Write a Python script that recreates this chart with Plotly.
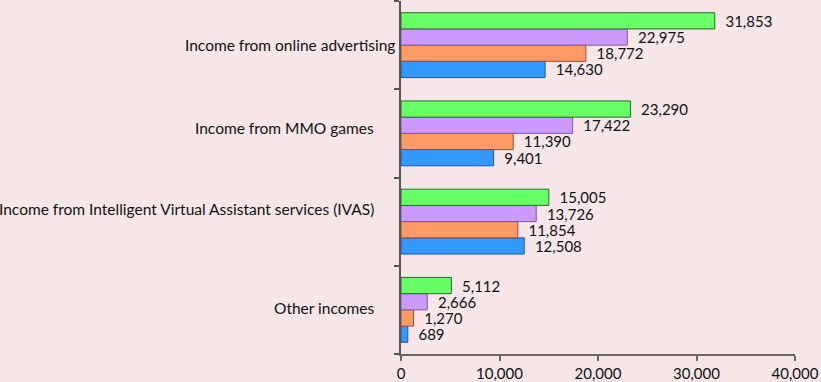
import plotly.graph_objects as go

categories = ["Other incomes",
              "Income from Intelligent Virtual Assistant services (IVAS)",
              "Income from MMO games",
              "Income from online advertising"]
series_names = ["S1", "S2", "S3", "S4"]
blue_vals = [689, 12508, 9401, 14630]
orange_vals = [1270, 11854, 11390, 18772]
purple_vals = [2666, 13726, 17422, 22975]
green_vals = [5112, 15005, 23290, 31853]
x_ticks = [0, 10000, 20000, 30000, 40000]

fills = ["#3399ff", "#ff9966", "#cc99ff", "#66ff66"]
edges = ["#1f4dcc", "#994d33", "#7a5c99", "#336633"]
bg = "#f6e6e8"
font_family = "Lato, 'Open Sans', sans-serif"

fig = go.Figure()
for name, vals, fc, ec in zip(series_names,
                              [blue_vals, orange_vals, purple_vals, green_vals],
                              fills, edges):
    fig.add_trace(go.Bar(
        y=categories, x=vals, orientation="h", name=name,
        marker=dict(color=fc, line=dict(color=ec, width=1)),
        text=[f"{v:,}" for v in vals],
        texttemplate="\u00a0\u00a0%{text}",
        textposition="outside", constraintext="none", cliponaxis=False,
        textfont=dict(family=font_family, size=15, color="#111111"),
        hoverinfo="skip",
    ))

label_shift = {categories[0]: (-25, 2), categories[1]: (-25, 13),
               categories[2]: (-25, 5), categories[3]: (-4, 0)}
for c in categories:
    xs, ys = label_shift[c]
    fig.add_annotation(x=0, y=c, xref="x", yref="y", text=c, showarrow=False,
                       xanchor="right", yanchor="middle", xshift=xs, yshift=ys,
                       font=dict(family=font_family, size=15.5, color="#111111"))

fig.update_layout(
    width=821, height=382, barmode="group", bargap=0.265, bargroupgap=0,
    showlegend=False,
    paper_bgcolor=bg, plot_bgcolor=bg,
    margin=dict(l=401, r=26, t=1, b=28),
    font=dict(family=font_family, size=15, color="#111111"),
    xaxis=dict(range=[0, 40000], tickvals=x_ticks, tickformat=",",
               showgrid=False, zeroline=False, showline=True,
               linecolor="#666666", linewidth=1.5, ticks="outside",
               ticklen=5, tickcolor="#666666", tickwidth=1.5,
               tickfont=dict(size=15)),
    yaxis=dict(categoryorder="array", categoryarray=categories,
               showticklabels=False, showgrid=False, showline=True,
               linecolor="#555555", linewidth=1.5, ticks="outside",
               tickson="boundaries", ticklen=5, tickcolor="#555555",
               tickwidth=1.5),
)

fig.write_html("out.html", config={"displayModeBar": False},
               post_script="document.body.style.margin='0';"
                           "document.body.style.background='" + bg + "';")
